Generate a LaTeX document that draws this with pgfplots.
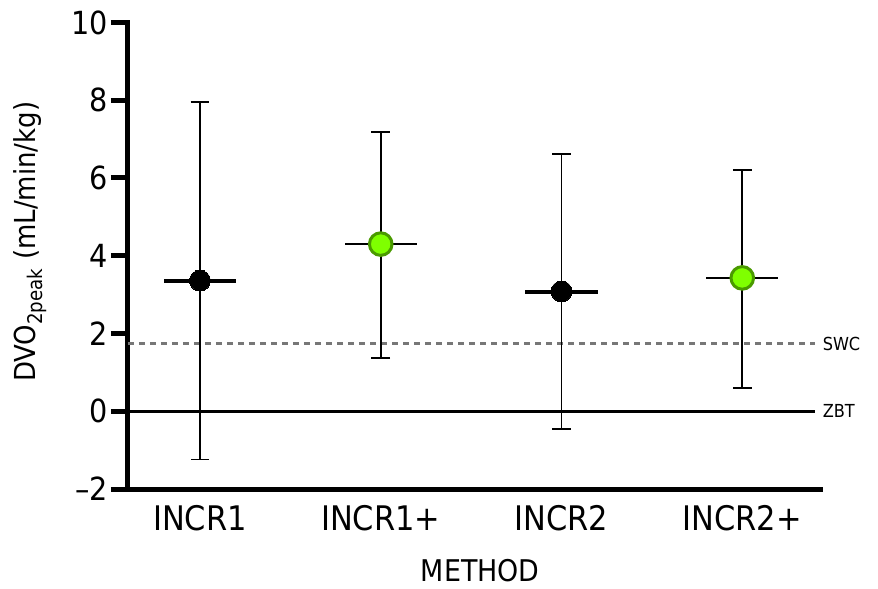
\documentclass[border=0pt]{standalone}
\usepackage{fontspec}
\setmainfont{DejaVu Sans}
\newfontfamily\condfont{DejaVu Sans Condensed}
\usepackage{pgfplots}
\pgfplotsset{compat=1.18}
\definecolor{limeF}{HTML}{7FFF00}
\definecolor{limeD}{HTML}{4A9A00}
\definecolor{dashgray}{HTML}{777777}
\begin{document}
\begin{tikzpicture}
\begin{axis}[
  scale only axis, width=692bp, height=466.5bp,
  xmin=-0.398, xmax=3.43, ymin=-2, ymax=10,
  axis x line*=bottom, axis y line*=left,
  axis line style={line width=5bp, -, line cap=rect},
  clip mode=individual,
  xtick={0,1,2,3},
  xticklabels={INCR1,INCR1+,INCR2,INCR2+},
  x tick style={draw=none},
  ytick={-2,0,2,4,6,8,10},
  yticklabels={\textendash2,0,2,4,6,8,10},
  y tick style={line width=5bp, black},
  major tick length=17bp,
  tick align=outside,
  yticklabel style={font=\condfont\fontsize{32}{32}\selectfont, inner sep=3bp},
  xticklabel style={font=\condfont\fontsize{34}{34}\selectfont, anchor=north, yshift=4bp},
  xlabel={METHOD},
  xlabel style={font=\condfont\fontsize{30}{30}\selectfont, at={(axis description cs:0.509,-0.174)}, anchor=center},
  ylabel={DVO\textsubscript{2peak} (mL/min/kg)},
  ylabel style={font=\condfont\fontsize{29}{29}\selectfont, at={(axis description cs:-0.142,0.53)}, anchor=center},
]
% zero baseline (ZBT)
\addplot[black, line width=3.5bp, mark=none] coordinates {(-0.398,0) (3.40,0)};
% smallest worthwhile change (SWC)
\addplot[dashgray, line width=3bp, dash pattern=on 6bp off 5bp, mark=none] coordinates {(-0.398,1.73) (3.40,1.73)};
% vertical error bars
\addplot[draw=none, mark=none, error bars/.cd, y dir=both, y explicit,
  error bar style={line width=1.6bp, black},
  error mark options={rotate=90, black, line width=1.6bp, mark size=9.3bp}]
  coordinates {
  (0,3.36) += (0,4.59) -= (0,4.60)
  (1,4.30) += (0,2.89) -= (0,2.93)
  (2,3.08) += (0,3.54) -= (0,3.54)
  (3,3.43) += (0,2.78) -= (0,2.83)
  };
% mean bars, black (thick)
\addplot[draw=none, mark=none, error bars/.cd, x dir=both, x fixed=0.2, error mark=none,
  error bar style={line width=4bp, black}]
  coordinates {(0,3.36) (2,3.08)};
% mean bars, green (thin)
\addplot[draw=none, mark=none, error bars/.cd, x dir=both, x fixed=0.2, error mark=none,
  error bar style={line width=2bp, black}]
  coordinates {(1,4.30) (3,3.43)};
% markers
\addplot[only marks, mark=*, mark size=10.5bp, mark options={fill=black, draw=black, line width=0bp}]
  coordinates {(0,3.36) (2,3.08)};
\addplot[only marks, mark=*, mark size=11.3bp, mark options={fill=limeF, draw=limeD, line width=3bp}]
  coordinates {(1,4.30) (3,3.43)};
\node[anchor=west, inner sep=0pt, xshift=8bp, font=\condfont\fontsize{18}{18}\selectfont] at (axis cs:3.40,1.73) {SWC};
\node[anchor=west, inner sep=0pt, xshift=8bp, font=\condfont\fontsize{18}{18}\selectfont] at (axis cs:3.40,0) {ZBT};
\end{axis}
\pgfresetboundingbox
\path[use as bounding box] ([shift={(-128bp,-100bp)}]current axis.south west) rectangle ([shift={(58bp,22.5bp)}]current axis.north east);
\end{tikzpicture}
\end{document}
